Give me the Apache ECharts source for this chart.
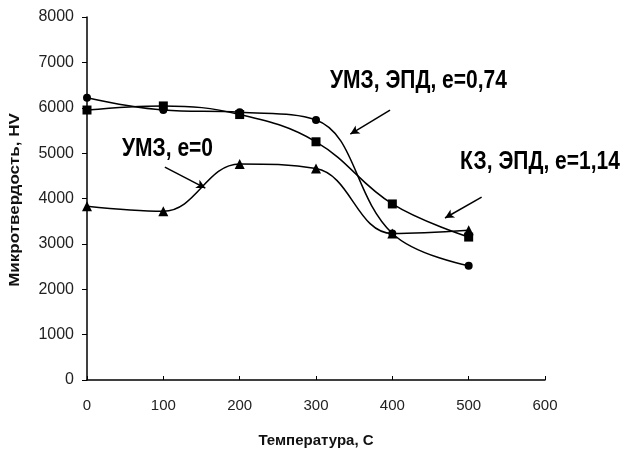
<!DOCTYPE html>
<html><head><meta charset="utf-8">
<script src="https://cdn.jsdelivr.net/npm/echarts@6/dist/echarts.min.js"></script>
<style>html,body{margin:0;padding:0;background:#fff}#c{width:624px;height:450px}</style>
</head><body><div id="c"></div>
<script>
var temps = [0, 100, 200, 300, 400, 500];
var umzEpd074 = [6220, 5950, 5900, 5730, 3230, 2520];   // circles
var kzEpd114 = [5950, 6040, 5850, 5250, 3880, 3150];    // squares
var umz0 = [3830, 3720, 4760, 4660, 3230, 3300];        // triangles
var xTicks = [0, 100, 200, 300, 400, 500, 600];
var yTicks = [0, 1000, 2000, 3000, 4000, 5000, 6000, 7000, 8000];
var labels = ['УМЗ, ЭПД, e=0,74', 'КЗ, ЭПД, e=1,14', 'УМЗ, e=0'];
var xName = 'Температура, С';
var yName = 'Микротвердость, HV';
var arrows = [
  [[397, 5950], [345, 5420]],
  [[517, 4030], [469, 3570]],
  [[102, 4690], [155, 4230]]
];

function pts(ys){ return temps.map(function(t,i){ return [t, ys[i]]; }); }
function arrowLine(a){
  return {
    silent: true, symbol: ['none', 'arrow'], symbolSize: [7, 9],
    lineStyle: {color: '#000', width: 1.5, type: 'solid'}, label: {show: false},
    data: [[{coord: a[0]}, {coord: a[1]}]]
  };
}
var font = 'Liberation Sans, Arial, sans-serif';
var chart = echarts.init(document.getElementById('c'));
var base = {type: 'line', smooth: 0.4, color: '#000', lineStyle: {color: '#000', width: 1.5},
  itemStyle: {color: '#000'}, animation: false};
function lbl(text, x, y){
  return {type: 'text', x: x, y: y, scaleY: 1.2,
    style: {text: text, x: 0, y: 0, align: 'left', verticalAlign: 'middle',
      font: 'bold 21px ' + font, fill: '#000'}};
}
chart.setOption({
  animation: false,
  grid: {left: 87, right: 79, top: 17, bottom: 70, containLabel: false, outerBoundsMode: 'none'},
  xAxis: {type: 'value', min: 0, max: 600, interval: 100,
    axisLine: {lineStyle: {color: '#000', width: 1.5}},
    axisTick: {show: true, inside: true, length: 4, lineStyle: {color: '#000'}},
    splitLine: {show: false},
    axisLabel: {color: '#222', fontSize: 15, fontFamily: font, margin: 18,
      formatter: function(v){ return xTicks.indexOf(v) >= 0 ? String(v) : ''; }}
  },
  yAxis: {type: 'value', min: 0, max: 8000, interval: 1000,
    axisLine: {show: true, lineStyle: {color: '#000', width: 1.5}},
    axisTick: {show: true, length: 5, lineStyle: {color: '#000'}},
    splitLine: {show: false},
    axisLabel: {color: '#222', fontSize: 16, fontFamily: font, margin: 13,
      formatter: function(v){ return yTicks.indexOf(v) >= 0 ? String(v) : ''; }}
  },
  series: [
    Object.assign({}, base, {name: labels[0], data: pts(umzEpd074), symbol: 'circle', symbolSize: 8, markLine: arrowLine(arrows[0])}),
    Object.assign({}, base, {name: labels[1], data: pts(kzEpd114), symbol: 'rect', symbolSize: 9, markLine: arrowLine(arrows[1])}),
    Object.assign({}, base, {name: labels[2], data: pts(umz0), symbol: 'triangle', symbolSize: 10, markLine: arrowLine(arrows[2])})
  ],
  graphic: [
    lbl(labels[0], 330, 81),
    lbl(labels[1], 460, 162),
    lbl(labels[2], 122, 149),
    {type: 'text', x: 316, y: 441, style: {text: xName, x: 0, y: 0, align: 'center', verticalAlign: 'middle',
      font: 'bold 15px ' + font, fill: '#111'}},
    {type: 'text', x: 15, y: 200, rotation: Math.PI / 2, style: {text: yName, x: 0, y: 0, align: 'center', verticalAlign: 'middle',
      font: 'bold 17px ' + font, fill: '#111'}, scaleY: 0.85}
  ]
});
</script></body></html>
